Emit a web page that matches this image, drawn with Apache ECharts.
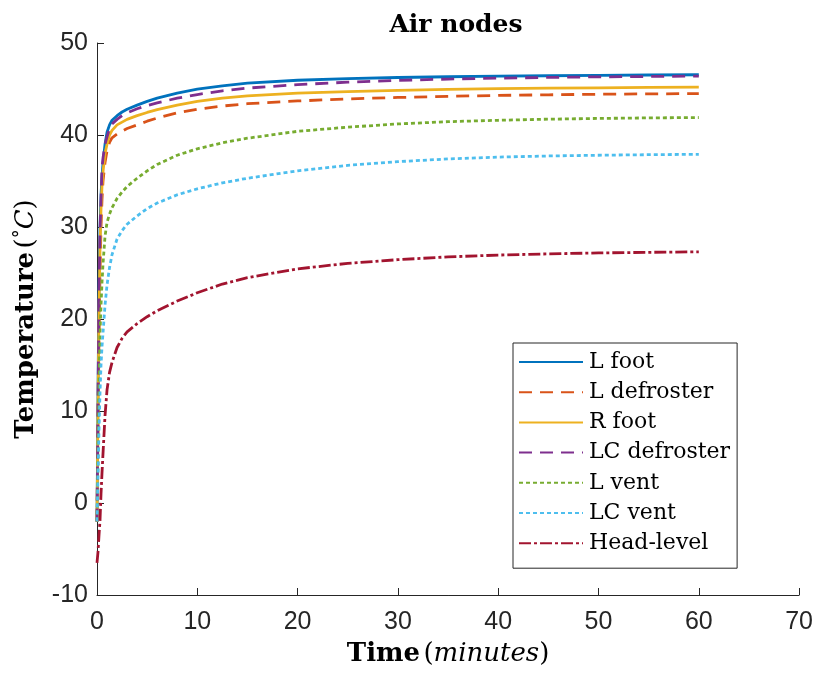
<!DOCTYPE html>
<html>
<head>
<meta charset="utf-8">
<script src="https://cdn.jsdelivr.net/npm/echarts@6/dist/echarts.min.js"></script>
<style>html,body{margin:0;padding:0;background:#fff}#c{width:816px;height:673px}</style>
</head>
<body>
<div id="c"></div>
<script>
var timeMin = [0, 0.1, 0.2, 0.3, 0.4, 0.5, 0.6, 0.8, 1, 1.25, 1.5, 2, 2.5, 3, 4, 5, 6, 8, 10, 12.5, 15, 20, 25, 30, 35, 40, 45, 50, 55, 60];
var seriesNames = ['L foot', 'L defroster', 'R foot', 'LC defroster', 'L vent', 'LC vent', 'Head-level'];
var lFoot       = [-2, 12, 24, 30, 33.5, 35.5, 37, 39, 40.3, 41.1, 41.6, 42.1, 42.5, 42.8, 43.25, 43.65, 44.0, 44.55, 44.98, 45.35, 45.63, 45.95, 46.13, 46.25, 46.33, 46.39, 46.44, 46.48, 46.52, 46.55];
var lDefroster  = [-2, 8, 18, 25, 30, 33, 35, 37, 38.3, 39.2, 39.7, 40.1, 40.4, 40.7, 41.1, 41.5, 41.85, 42.4, 42.8, 43.15, 43.4, 43.7, 43.92, 44.08, 44.2, 44.3, 44.37, 44.43, 44.47, 44.5];
var rFoot       = [-2, 10, 21, 27.5, 32, 34.5, 36, 38, 39, 40, 40.5, 41.1, 41.4, 41.7, 42.1, 42.45, 42.75, 43.25, 43.65, 44.0, 44.25, 44.55, 44.72, 44.86, 44.96, 45.03, 45.09, 45.13, 45.17, 45.2];
var lcDefroster = [-2, 11, 23, 29.5, 33, 36.4, 37.5, 39, 39.8, 40.7, 41.2, 41.7, 42.1, 42.4, 42.85, 43.2, 43.5, 44.0, 44.4, 44.8, 45.1, 45.48, 45.74, 45.94, 46.08, 46.18, 46.26, 46.32, 46.36, 46.4];
var lVent       = [-2, 5, 13, 18.5, 21.5, 24, 26, 29, 30.5, 31.4, 32.1, 33.1, 33.8, 34.4, 35.3, 36.1, 36.8, 37.8, 38.5, 39.15, 39.65, 40.4, 40.85, 41.2, 41.45, 41.6, 41.72, 41.8, 41.86, 41.9];
var lcVent      = [-2, 3, 8, 12, 15, 17, 18.5, 21.5, 23.7, 25.6, 27.0, 28.7, 29.6, 30.3, 31.2, 32.0, 32.6, 33.5, 34.15, 34.8, 35.3, 36.1, 36.7, 37.1, 37.4, 37.6, 37.72, 37.8, 37.86, 37.9];
var headLevel   = [-6.5, -5.3, -3.5, -1.9, 1.0, 3.3, 5.4, 9.5, 12.3, 14.2, 15.3, 16.9, 17.9, 18.6, 19.5, 20.25, 20.9, 21.95, 22.85, 23.8, 24.5, 25.45, 26.05, 26.45, 26.75, 26.95, 27.08, 27.18, 27.25, 27.3];
var xTicks = [0, 10, 20, 30, 40, 50, 60, 70];
var yTicks = [-10, 0, 10, 20, 30, 40, 50];

var allValues = [lFoot, lDefroster, rFoot, lcDefroster, lVent, lcVent, headLevel];
var colors = ['#0072BD', '#D95319', '#EDB120', '#7E2F8E', '#77AC30', '#4DBEEE', '#A2142F'];
var dashes = ['solid', [13, 8], 'solid', [13, 8], [4, 3], [4, 3], [12, 3, 3, 3]];

function pairs(v) { return timeMin.map(function (t, i) { return [t, v[i]]; }); }

var series = allValues.map(function (v, k) {
  return {
    name: seriesNames[k], type: 'line', data: pairs(v), symbol: 'none', showSymbol: false,
    smooth: false,
    lineStyle: { color: colors[k], width: 2.8, type: dashes[k] },
    itemStyle: { color: colors[k] }, z: 2 + k
  };
});

var chart = echarts.init(document.getElementById('c'));
var serif = 'DejaVu Serif';
var tickFont = "'Liberation Sans Narrow', 'Liberation Sans', sans-serif";
chart.setOption({
  animation: false,
  backgroundColor: '#ffffff',
  title: {
    text: 'Air nodes', left: 451, top: 8, textAlign: 'center',
    textStyle: { fontFamily: serif, fontWeight: 'bold', fontSize: 25, color: '#000' }
  },
  grid: { left: 97, right: 16, top: 43, bottom: 78, containLabel: false },
  legend: {
    orient: 'vertical', left: 513, top: 343,
    data: seriesNames,
    itemWidth: 64, itemHeight: 14, itemGap: 8.2,
    padding: [8, 7, 14, 5],
    itemStyle: { opacity: 0, borderWidth: 0 },
    borderColor: '#262626', borderWidth: 1, backgroundColor: '#fff',
    textStyle: { fontFamily: serif, fontSize: 22, color: '#000', padding: [0, 0, 0, 1] }
  },
  xAxis: {
    type: 'value', min: xTicks[0], max: xTicks[xTicks.length - 1], interval: 10,
    name: '{b|Time} {r|(}{i|minutes}{r|)}', nameLocation: 'middle', nameGap: 46,
    nameTextStyle: {
      rich: {
        b: { fontFamily: serif, fontWeight: 'bold', fontSize: 26, color: '#000' },
        r: { fontFamily: serif, fontSize: 26, color: '#000' },
        i: { fontFamily: serif, fontStyle: 'italic', fontSize: 26, color: '#000' }
      }
    },
    axisLine: { onZero: false, lineStyle: { color: '#262626', width: 1 } },
    axisTick: { inside: true, length: 7, lineStyle: { color: '#262626' } },
    axisLabel: { fontFamily: tickFont, fontSize: 25, color: '#262626', margin: 15 },
    splitLine: { show: false }
  },
  yAxis: {
    type: 'value', min: yTicks[0], max: yTicks[yTicks.length - 1], interval: 10,
    name: '{b|Temperature} {r|(}{s|°}{i|C}{r|)}', nameLocation: 'middle', nameGap: 57, nameRotate: 90,
    nameTextStyle: {
      rich: {
        b: { fontFamily: serif, fontWeight: 'bold', fontSize: 26, color: '#000' },
        r: { fontFamily: serif, fontSize: 26, color: '#000' },
        s: { fontFamily: serif, fontSize: 18, color: '#000', verticalAlign: 'top', padding: [0, 0, 10, 0] },
        i: { fontFamily: serif, fontStyle: 'italic', fontSize: 26, color: '#000' }
      }
    },
    axisLine: { show: true, onZero: false, lineStyle: { color: '#262626', width: 1 } },
    axisTick: { show: true, inside: true, length: 7, lineStyle: { color: '#262626' } },
    axisLabel: { fontFamily: tickFont, fontSize: 25, color: '#262626', margin: 9 },
    splitLine: { show: false }
  },
  series: series
});
</script>
</body>
</html>
